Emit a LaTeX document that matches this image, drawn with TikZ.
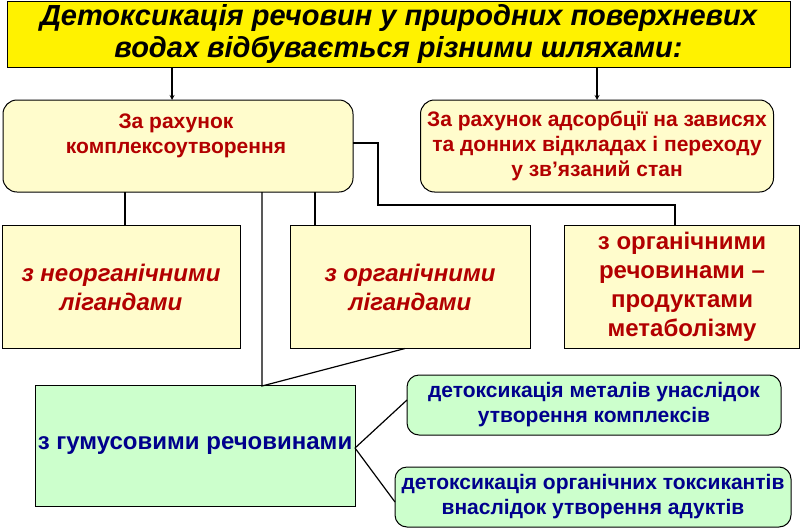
\documentclass[tikz,border=0pt]{standalone}
\usepackage{fontspec}
\setmainfont{Liberation Sans}
\begin{document}
\begin{tikzpicture}[x=1pt,y=-1pt,
  ln/.style={black,line width=1.2pt},
  ybox/.style={draw=black,line width=1pt,fill=yellow!20},
  gbox/.style={draw=black,line width=1pt,fill=green!20},
  rtx/.style={text=red!70!black,font=\bfseries\fontsize{21}{25}\selectfont,align=center},
  btx/.style={text=blue!55!black,font=\bfseries\fontsize{21}{25}\selectfont,align=center}]
\useasboundingbox (0,0) rectangle (800,530);
\node[draw=black,line width=1pt,fill=yellow,minimum width=783pt,minimum height=66pt,inner sep=0,
  font=\bfseries\itshape\fontsize{29}{32}\selectfont,align=center] (t) at (398.5,34)
  {Детоксикація речовин у природних поверхневих\\водах відбувається різними шляхами:};
\node[ybox,rounded corners=14pt,minimum width=350pt,minimum height=92pt,inner sep=0] (b1) at (178,146) {};
\node[rtx] at (176,136) {За рахунок\\комплексоутворення};
\node[ybox,rounded corners=14pt,minimum width=353pt,minimum height=92pt,inner sep=0,rtx] (b2) at (597,146)
  {За рахунок адсорбції на зависях\\та донних відкладах і переходу\\у зв'язаний стан};
\draw[ln,-stealth] (172,68) -- (172,100);
\draw[ln,-stealth] (597,68) -- (597,100);
\node[ybox,minimum width=238pt,minimum height=123pt,inner sep=0,rtx,font=\bfseries\itshape\fontsize{24}{29}\selectfont] (a) at (121,287) {з неорганічними\\лігандами};
\node[ybox,minimum width=240pt,minimum height=123pt,inner sep=0,rtx,font=\bfseries\itshape\fontsize{24}{29}\selectfont] (b) at (410,287) {з органічними\\лігандами};
\node[ybox,minimum width=235pt,minimum height=123pt,inner sep=0,rtx,font=\bfseries\fontsize{24}{29}\selectfont] (c) at (682,287) {з органічними\\речовинами –\\продуктами\\метаболізму};
\draw[ln] (125,192) -- (125,225.5);
\draw[ln] (315,192) -- (315,225.5);
\draw[ln] (353,143) -- (378,143) -- (378,205) -- (675,205) -- (675,225.5);
\node[gbox,minimum width=320pt,minimum height=121pt,inner sep=0,btx,font=\bfseries\fontsize{24}{29}\selectfont] (g) at (195,446) {з гумусовими речовинами};
\draw[ln] (262,192) -- (262,386) -- (405,348.5);
\node[gbox,rounded corners=12pt,minimum width=374pt,minimum height=60pt,inner sep=0,btx] (g1) at (594,405) {детоксикація металів унаслідок\\утворення комплексів};
\node[gbox,rounded corners=12pt,minimum width=396pt,minimum height=60pt,inner sep=0,btx] (g2) at (593,497) {детоксикація органічних токсикантів\\внаслідок утворення адуктів};
\draw[ln] (355,448) -- (407,400);
\draw[ln] (355,448) -- (395,502);
\end{tikzpicture}
\end{document}
